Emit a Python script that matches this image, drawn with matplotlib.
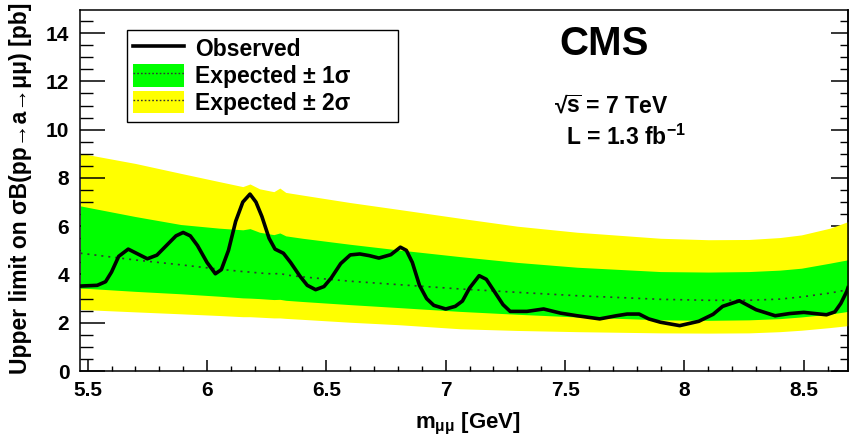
import matplotlib
matplotlib.use("Agg")
import matplotlib.pyplot as plt
from matplotlib.patches import Patch
from matplotlib.lines import Line2D
from matplotlib.ticker import MultipleLocator

plt.rcParams['font.family'] = ['Liberation Sans', 'DejaVu Sans']
plt.rcParams['font.weight'] = 'bold'
plt.rcParams['mathtext.fontset'] = 'custom'
plt.rcParams['mathtext.rm'] = 'Liberation Sans:bold'
plt.rcParams['mathtext.it'] = 'Liberation Sans:bold'
plt.rcParams['mathtext.bf'] = 'Liberation Sans:bold'
plt.rcParams['mathtext.sf'] = 'Liberation Sans:bold'

# ---- data ----
obs_x = [5.47, 5.54, 5.575, 5.60, 5.63, 5.67, 5.71, 5.75, 5.79, 5.83, 5.87, 5.90,
         5.93, 5.96, 6.00, 6.035, 6.06, 6.09, 6.12, 6.15, 6.18, 6.205, 6.23, 6.26,
         6.285, 6.32, 6.35, 6.39, 6.42, 6.455, 6.49, 6.52, 6.56, 6.60, 6.64, 6.68,
         6.72, 6.77, 6.81, 6.835, 6.86, 6.89, 6.92, 6.95, 7.00, 7.04, 7.07, 7.10,
         7.14, 7.17, 7.20, 7.24, 7.27, 7.34, 7.41, 7.48, 7.55, 7.645, 7.715, 7.76,
         7.81, 7.85, 7.90, 7.98, 8.06, 8.12, 8.16, 8.23, 8.30, 8.38, 8.44, 8.50,
         8.595, 8.63, 8.655, 8.68, 8.685]
obs_y = [3.52, 3.55, 3.70, 4.10, 4.75, 5.05, 4.85, 4.65, 4.80, 5.20, 5.60, 5.74,
         5.60, 5.20, 4.50, 4.03, 4.20, 5.00, 6.20, 7.00, 7.33, 7.00, 6.40, 5.50,
         5.05, 4.88, 4.50, 3.92, 3.55, 3.37, 3.50, 3.85, 4.45, 4.81, 4.85, 4.78,
         4.68, 4.82, 5.13, 5.00, 4.50, 3.55, 3.00, 2.72, 2.57, 2.68, 2.90, 3.44,
         3.95, 3.80, 3.35, 2.75, 2.47, 2.47, 2.57, 2.40, 2.29, 2.16, 2.29, 2.36,
         2.36, 2.16, 2.02, 1.88, 2.06, 2.35, 2.68, 2.91, 2.54, 2.29, 2.38, 2.43,
         2.33, 2.45, 2.80, 3.30, 3.45]

band_x = [5.47, 5.70, 5.89, 6.05, 6.15, 6.18, 6.22, 6.28, 6.305, 6.33, 6.40, 6.60,
          6.80, 7.06, 7.30, 7.55, 7.90, 8.10, 8.27, 8.40, 8.49, 8.61, 8.685]
exp_med = [4.88, 4.60, 4.40, 4.22, 4.12, 4.10, 4.06, 4.02, 4.05, 3.98, 3.90, 3.72,
           3.58, 3.40, 3.26, 3.12, 2.97, 2.93, 2.93, 2.98, 3.07, 3.23, 3.37]
exp_p1 = [6.84, 6.40, 6.07, 5.92, 5.85, 5.90, 5.75, 5.65, 5.72, 5.60, 5.50, 5.25,
          5.02, 4.74, 4.50, 4.30, 4.12, 4.10, 4.12, 4.18, 4.26, 4.47, 4.61]
exp_m1 = [3.44, 3.30, 3.20, 3.10, 3.03, 3.02, 3.00, 2.96, 2.97, 2.93, 2.88, 2.75,
          2.63, 2.47, 2.35, 2.24, 2.12, 2.10, 2.12, 2.17, 2.24, 2.36, 2.47]
exp_p2 = [9.02, 8.60, 8.19, 7.85, 7.64, 7.75, 7.55, 7.43, 7.58, 7.40, 7.29, 6.98,
          6.70, 6.33, 6.00, 5.75, 5.50, 5.44, 5.45, 5.53, 5.64, 5.92, 6.19]
exp_m2 = [2.55, 2.45, 2.37, 2.30, 2.25, 2.25, 2.23, 2.20, 2.20, 2.18, 2.14, 2.02,
          1.92, 1.75, 1.68, 1.63, 1.58, 1.57, 1.58, 1.63, 1.69, 1.80, 1.88]

labels = ["Observed", "Expected \u00b1 1\u03c3", "Expected \u00b1 2\u03c3"]

# ---- figure ----
fig = plt.figure(figsize=(8.49, 4.43), dpi=100)
ax = fig.add_axes([0.0948, 0.1625, 0.9040, 0.8145])

GREEN = '#00ff00'
YELLOW = '#ffff00'
ax.fill_between(band_x, exp_m2, exp_p2, color=YELLOW, lw=0, zorder=1)
ax.fill_between(band_x, exp_m1, exp_p1, color=GREEN, lw=0, zorder=2)
ax.plot(band_x, exp_med, color='#333333', lw=1.2, dashes=(1.2, 3.0), zorder=3)
ax.plot(obs_x, obs_y, color='black', lw=2.6, zorder=4, solid_joinstyle='round')

ax.set_xlim(5.47, 8.685)
ax.set_ylim(0, 14.95)

ax.xaxis.set_major_locator(MultipleLocator(0.5))
ax.xaxis.set_minor_locator(MultipleLocator(0.1))
ax.yaxis.set_major_locator(MultipleLocator(2))
ax.yaxis.set_minor_locator(MultipleLocator(0.5))

ax.tick_params(axis='x', which='major', direction='in', length=8, width=1.1,
               labelsize=15, pad=7, top=False)
ax.tick_params(axis='x', which='minor', direction='in', length=3.8, width=1.0, top=False)
ax.tick_params(axis='y', which='major', direction='in', length=18, width=1.1,
               labelsize=15, pad=8, right=False)
ax.tick_params(axis='y', which='minor', direction='in', length=9.5, width=1.0, right=False)
for lab in ax.get_xticklabels() + ax.get_yticklabels():
    lab.set_fontweight('bold')

sec = ax.secondary_yaxis('right')
sec.yaxis.set_major_locator(MultipleLocator(2))
sec.yaxis.set_minor_locator(MultipleLocator(0.5))
sec.tick_params(axis='y', which='major', direction='in', length=12, width=1.1, labelright=False)
sec.tick_params(axis='y', which='minor', direction='in', length=5.8, width=1.0)
sec.spines['right'].set_linewidth(1.1)

for s in ax.spines.values():
    s.set_linewidth(1.1)

ax.set_xticks([5.5, 6, 6.5, 7, 7.5, 8, 8.5])
ax.set_xticklabels(['5.5', '6', '6.5', '7', '7.5', '8', '8.5'], fontweight='bold')

ax.set_xlabel(r"$m_{\mu\mu}$ [GeV]", fontsize=16, fontweight='bold')
ax.xaxis.set_label_coords(0.505, -0.11)
ax.set_ylabel("Upper limit on \u03c3B(pp\u2192a\u2192\u03bc\u03bc) [pb]", fontsize=16.5,
              fontweight='bold')
ax.yaxis.set_label_coords(-0.063, 0.505)

ax.text(0.682, 0.905, "CMS", transform=ax.transAxes, fontsize=29, fontweight='bold',
        ha='center', va='center')
ax.text(0.617, 0.735, "\u221a$\\overline{s}$ = 7 TeV", transform=ax.transAxes, fontsize=16.5,
        fontweight='bold', ha='left', va='center')
ax.text(0.633, 0.648, r"L = 1.3 fb$^{-1}$", transform=ax.transAxes, fontsize=16.5,
        fontweight='bold', ha='left', va='center')

h_obs = Line2D([], [], color='black', lw=2.6)
h1 = (Patch(facecolor=GREEN, edgecolor='none'),
      Line2D([], [], color='#333333', lw=1.0, dashes=(1.2, 1.5)))
h2 = (Patch(facecolor=YELLOW, edgecolor='none'),
      Line2D([], [], color='#333333', lw=1.0, dashes=(1.2, 1.5)))
leg = ax.legend([h_obs, h1, h2], labels, loc='upper left',
                bbox_to_anchor=(0.06, 0.687, 0.354, 0.258), mode='expand',
                borderaxespad=0, fancybox=False,
                framealpha=1, edgecolor='black', prop={'weight': 'bold', 'size': 16.5},
                handlelength=2.2, handleheight=1.15, handletextpad=0.5,
                labelspacing=0.12, borderpad=0.3)
leg.get_frame().set_linewidth(1.0)
leg.set_zorder(10)

fig.savefig("out.png", dpi=100)
